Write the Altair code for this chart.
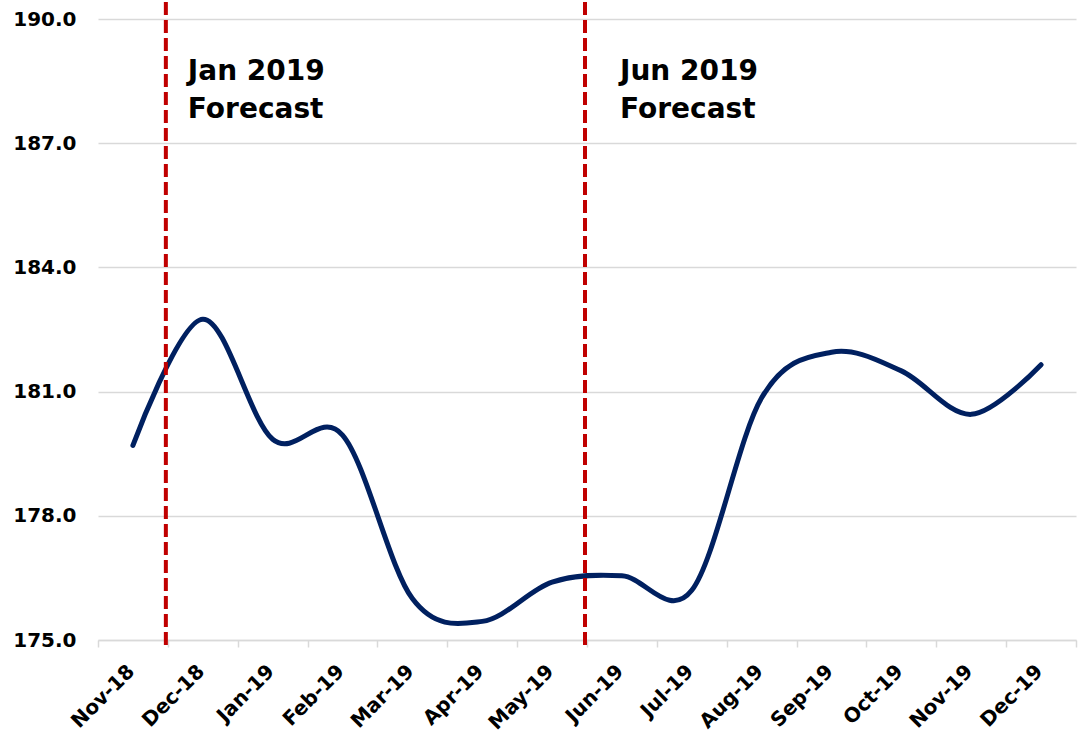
import altair as alt
import pandas as pd

# Monthly series, Nov-2018 through Dec-2019
months = ["Nov-18", "Dec-18", "Jan-19", "Feb-19", "Mar-19", "Apr-19", "May-19",
          "Jun-19", "Jul-19", "Aug-19", "Sep-19", "Oct-19", "Nov-19", "Dec-19"]
values = [179.7, 182.75, 179.85, 179.95, 176.0, 175.45, 176.4,
          176.55, 176.2, 180.85, 181.95, 181.5, 180.45, 181.65]

# Forecast vintages: marker drawn at the start of the given month
forecast_months = ["Dec-18", "Jun-19"]
forecast_labels = [["Jan 2019", "Forecast"], ["Jun 2019", "Forecast"]]

y_ticks = [175, 178, 181, 184, 187, 190]

series = pd.DataFrame({"month": months, "value": values})
markers = pd.DataFrame({"month": forecast_months, "label": forecast_labels})

FONT = "DejaVu Sans"
GRID = "#d9d9d9"
# horizontal gap between each marker line and its caption
LABEL_GAP = {"Dec-18": 20, "Jun-19": 33}

x_scale = alt.Scale(type="band", domain=months, paddingInner=0, paddingOuter=0)
x_axis = alt.Axis(
    title=None, labelAngle=-45, labelAlign="right", labelBaseline="middle",
    labelFont=FONT, labelFontWeight="bold", labelFontSize=20,
    labelColor="#000000", labelPadding=21, labelOffset=-2,
    tickBand="extent", tickColor=GRID, tickSize=7, tickWidth=1.5,
    domainColor=GRID, domainWidth=1.5, grid=False,
)
y_scale = alt.Scale(domain=[175, 190], zero=False, nice=False)
y_axis = alt.Axis(
    title=None, values=y_ticks, format=".1f", labelFont=FONT,
    labelFontWeight="bold", labelFontSize=20, labelColor="#000000",
    labelPadding=22, ticks=False, domain=False,
    gridColor=GRID, gridWidth=1.5,
)

line = alt.Chart(series).mark_line(
    color="#002060", strokeWidth=5, interpolate="cardinal", strokeCap="round"
).encode(
    x=alt.X("month:N", scale=x_scale, axis=x_axis),
    y=alt.Y("value:Q", scale=y_scale, axis=y_axis),
)

rules = alt.Chart(markers).mark_rule(
    color="#c00000", strokeWidth=4, strokeDash=[13, 5]
).encode(
    x=alt.X("month:N", bandPosition=0),
    xOffset=alt.value(-2),
    y=alt.value(-17),
    y2=alt.value(630),
)

captions = [
    alt.Chart(markers).transform_filter(
        alt.datum.month == m
    ).mark_text(
        align="left", baseline="alphabetic", dx=LABEL_GAP[m], fontSize=28,
        fontWeight="bold", font=FONT, lineHeight=38, color="#000000",
    ).encode(
        x=alt.X("month:N", bandPosition=0),
        y=alt.value(61),
        text="label:N",
    )
    for m in forecast_months
]

chart = alt.layer(line, rules, *captions).properties(
    width=978,
    height=621,
    autosize=alt.AutoSizeParams(type="none"),
    padding={"left": 98, "top": 19, "right": 8, "bottom": 95},
    background="white",
).configure_view(stroke=None)

chart.save("out.html", embed_options={"renderer": "svg", "actions": False})
